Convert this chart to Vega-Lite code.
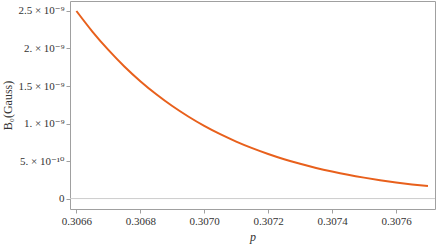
{
  "$schema": "https://vega.github.io/schema/vega-lite/v6.json",
  "width": 365,
  "height": 208,
  "autosize": {"type": "none"},
  "padding": {"left": 70, "top": 1, "right": 1, "bottom": 36},
  "background": "white",
  "config": {
    "view": {"stroke": "#a0a0a0", "strokeWidth": 1},
    "axis": {
      "labelFont": "Liberation Serif, DejaVu Serif",
      "titleFont": "Liberation Serif, DejaVu Serif",
      "labelFontSize": 11,
      "titleFontSize": 12,
      "labelColor": "#333333",
      "titleColor": "#333333",
      "titleFontWeight": "normal",
      "domain": false,
      "grid": false,
      "labelOverlap": false,
      "labelFlush": false,
      "labelBound": false
    }
  },
  "data": {
    "values": [
      {"p": 0.30660, "B": 2.5e-9},
      {"p": 0.30665, "B": 2.226e-9},
      {"p": 0.30670, "B": 1.981e-9},
      {"p": 0.30675, "B": 1.761e-9},
      {"p": 0.30680, "B": 1.565e-9},
      {"p": 0.30685, "B": 1.390e-9},
      {"p": 0.30690, "B": 1.233e-9},
      {"p": 0.30695, "B": 1.094e-9},
      {"p": 0.30700, "B": 0.969e-9},
      {"p": 0.30705, "B": 0.858e-9},
      {"p": 0.30710, "B": 0.760e-9},
      {"p": 0.30715, "B": 0.672e-9},
      {"p": 0.30720, "B": 0.594e-9},
      {"p": 0.30725, "B": 0.524e-9},
      {"p": 0.30730, "B": 0.463e-9},
      {"p": 0.30735, "B": 0.408e-9},
      {"p": 0.30740, "B": 0.360e-9},
      {"p": 0.30745, "B": 0.317e-9},
      {"p": 0.30750, "B": 0.279e-9},
      {"p": 0.30755, "B": 0.245e-9},
      {"p": 0.30760, "B": 0.215e-9},
      {"p": 0.30765, "B": 0.189e-9},
      {"p": 0.30770, "B": 0.166e-9}
    ]
  },
  "layer": [
    {
      "data": {"values": [{}]},
      "mark": {"type": "rule", "color": "#cccccc", "strokeWidth": 1},
      "encoding": {
        "y": {"datum": 0, "type": "quantitative",
              "scale": {"domain": [-1.39e-10, 2.633e-9], "nice": false, "zero": false}}
      }
    },
    {
      "mark": {"type": "line", "color": "#e8601c", "strokeWidth": 2, "interpolate": "monotone"},
      "encoding": {
        "x": {
          "field": "p", "type": "quantitative",
          "scale": {"domain": [0.30658, 0.307722], "nice": false, "zero": false},
          "axis": {
            "orient": "bottom",
            "ticks": true, "tickColor": "#a0a0a0", "tickWidth": 1, "tickOpacity": 1,
            "tickSize": 4,
            "title": "p",
            "titleFontStyle": "italic",
            "titleBaseline": "alphabetic",
            "titleY": 31,
            "values": [0.3066, 0.3068, 0.307, 0.3072, 0.3074, 0.3076],
            "format": ".4f",
            "labelPadding": 2
          }
        },
        "y": {
          "field": "B", "type": "quantitative",
          "scale": {"domain": [-1.39e-10, 2.633e-9], "nice": false, "zero": false},
          "axis": {
            "orient": "left",
            "ticks": true, "tickColor": "#a0a0a0", "tickWidth": 1, "tickOpacity": 1,
            "tickSize": 4,
            "title": "B₀(Gauss)",
            "titleX": -59,
            "titleY": 104,
            "titleBaseline": "alphabetic",
            "values": [0, 5e-10, 1e-9, 1.5e-9, 2e-9, 2.5e-9],
            "labelExpr": "round(datum.value*1e10) == 0 ? '0' : round(datum.value*1e10) == 5 ? '5. × 10⁻¹⁰' : round(datum.value*1e10) == 10 ? '1. × 10⁻⁹' : round(datum.value*1e10) == 15 ? '1.5 × 10⁻⁹' : round(datum.value*1e10) == 20 ? '2. × 10⁻⁹' : round(datum.value*1e10) == 25 ? '2.5 × 10⁻⁹' : ''",
            "labelPadding": 2
          }
        }
      }
    }
  ]
}
